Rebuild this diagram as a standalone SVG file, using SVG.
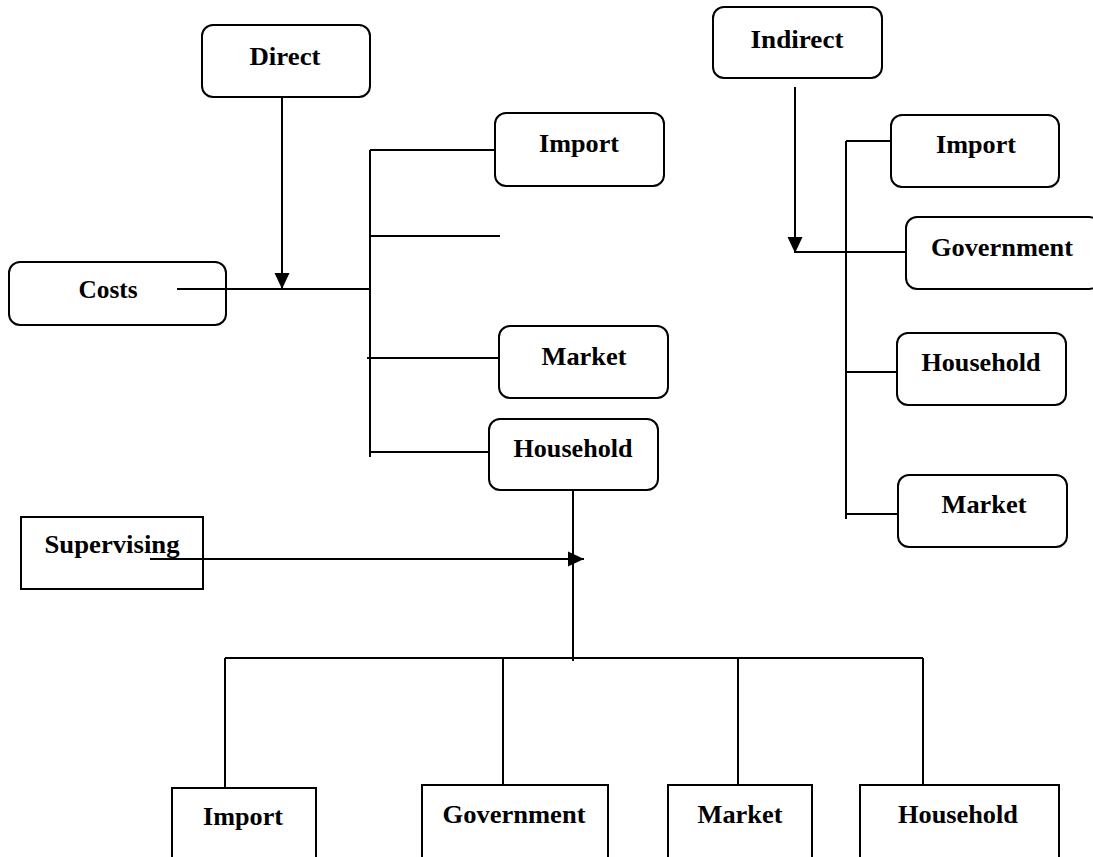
<svg xmlns="http://www.w3.org/2000/svg" width="1093" height="857" viewBox="0 0 1093 857">
<style>
.box{fill:#fff;stroke:#000;stroke-width:2}
.ln{fill:none;stroke:#000;stroke-width:2}
.t{font-family:"Liberation Serif","Times New Roman",serif;font-weight:bold;font-size:25px;fill:#000;text-anchor:middle}
</style>
<defs>
<marker id="ah" markerUnits="userSpaceOnUse" markerWidth="18" markerHeight="18" viewBox="0 0 18 18" refX="16" refY="9" orient="auto">
<path d="M0,1.5 L16,9 L0,16.5 Z" fill="#000"/>
</marker>
</defs>
<rect width="1093" height="857" fill="#fff"/>
<g id="connectors">
<line class="ln" x1="282" y1="97" x2="282" y2="289" marker-end="url(#ah)"/>
<line class="ln" x1="177" y1="289" x2="370" y2="289"/>
<line class="ln" x1="370" y1="150" x2="370" y2="457"/>
<line class="ln" x1="370" y1="150" x2="495" y2="150"/>
<line class="ln" x1="370" y1="236" x2="500" y2="236"/>
<line class="ln" x1="367" y1="358" x2="499" y2="358"/>
<line class="ln" x1="370" y1="452" x2="489" y2="452"/>
<line class="ln" x1="795" y1="87" x2="795" y2="253" marker-end="url(#ah)"/>
<line class="ln" x1="795" y1="252" x2="906" y2="252"/>
<line class="ln" x1="846" y1="141" x2="846" y2="519"/>
<line class="ln" x1="846" y1="141" x2="891" y2="141"/>
<line class="ln" x1="846" y1="372" x2="897" y2="372"/>
<line class="ln" x1="846" y1="514" x2="898" y2="514"/>
<line class="ln" x1="573" y1="490" x2="573" y2="661"/>
<line class="ln" x1="150" y1="559" x2="584" y2="559" marker-end="url(#ah)"/>
<line class="ln" x1="225" y1="658" x2="923" y2="658"/>
<line class="ln" x1="225" y1="658" x2="225" y2="787"/>
<line class="ln" x1="503" y1="658" x2="503" y2="785"/>
<line class="ln" x1="738" y1="658" x2="738" y2="785"/>
<line class="ln" x1="923" y1="658" x2="923" y2="785"/>
</g>
<g id="direct"><rect class="box" x="202" y="25" width="168" height="72" rx="11"/><text class="t" x="285" y="65" textLength="71" lengthAdjust="spacingAndGlyphs">Direct</text></g>
<g id="costs"><rect class="box" x="9" y="262" width="217" height="63" rx="11" style="fill:none"/><text class="t" x="108" y="298" textLength="59" lengthAdjust="spacingAndGlyphs">Costs</text></g>
<g id="import-direct"><rect class="box" x="495" y="113" width="169" height="73" rx="11"/><text class="t" x="579" y="152" textLength="80" lengthAdjust="spacingAndGlyphs">Import</text></g>
<g id="market-direct"><rect class="box" x="499" y="326" width="169" height="72" rx="11"/><text class="t" x="584" y="365" textLength="85" lengthAdjust="spacingAndGlyphs">Market</text></g>
<g id="household-direct"><rect class="box" x="489" y="419" width="169" height="71" rx="11"/><text class="t" x="573" y="457" textLength="119" lengthAdjust="spacingAndGlyphs">Household</text></g>
<g id="indirect"><rect class="box" x="713" y="7" width="169" height="71" rx="11"/><text class="t" x="797" y="48" textLength="93" lengthAdjust="spacingAndGlyphs">Indirect</text></g>
<g id="import-indirect"><rect class="box" x="891" y="115" width="168" height="72" rx="11"/><text class="t" x="976" y="153" textLength="80" lengthAdjust="spacingAndGlyphs">Import</text></g>
<g id="government-indirect"><rect class="box" x="906" y="217" width="194" height="72" rx="11"/><text class="t" x="1002" y="256" textLength="142" lengthAdjust="spacingAndGlyphs">Government</text></g>
<g id="household-indirect"><rect class="box" x="897" y="333" width="169" height="72" rx="11"/><text class="t" x="981" y="371" textLength="119" lengthAdjust="spacingAndGlyphs">Household</text></g>
<g id="market-indirect"><rect class="box" x="898" y="475" width="169" height="72" rx="11"/><text class="t" x="984" y="513" textLength="85" lengthAdjust="spacingAndGlyphs">Market</text></g>
<g id="supervising"><rect class="box" x="21" y="517" width="182" height="72" style="fill:none"/><text class="t" x="112" y="553" textLength="135" lengthAdjust="spacingAndGlyphs">Supervising</text></g>
<g id="import-bottom"><rect class="box" x="172" y="788" width="144" height="80"/><text class="t" x="243" y="825" textLength="80" lengthAdjust="spacingAndGlyphs">Import</text></g>
<g id="government-bottom"><rect class="box" x="422" y="785" width="186" height="83"/><text class="t" x="514" y="823" textLength="143" lengthAdjust="spacingAndGlyphs">Government</text></g>
<g id="market-bottom"><rect class="box" x="668" y="785" width="144" height="83"/><text class="t" x="740" y="823" textLength="85" lengthAdjust="spacingAndGlyphs">Market</text></g>
<g id="household-bottom"><rect class="box" x="860" y="785" width="199" height="83"/><text class="t" x="958" y="823" textLength="120" lengthAdjust="spacingAndGlyphs">Household</text></g>
</svg>
